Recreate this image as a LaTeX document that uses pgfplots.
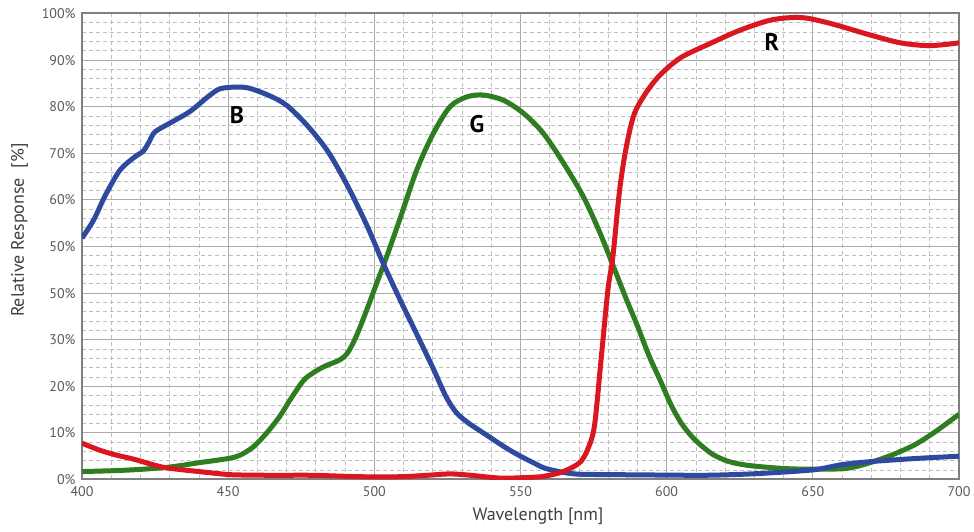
\documentclass[border=0pt]{standalone}
\usepackage{pgfplots}
\pgfplotsset{compat=1.18}
\usepackage{fontspec}
\setmainfont{PT Sans}
\definecolor{cB}{RGB}{46,74,158}
\definecolor{cG}{RGB}{46,125,32}
\definecolor{cR}{RGB}{218,22,30}
\begin{document}
\begin{tikzpicture}
\begin{axis}[
  scale only axis, width=877pt, height=466pt,
  xmin=400, xmax=700, ymin=0, ymax=100,
  xtick={400,450,...,700}, ytick={0,10,...,100},
  yticklabels={0\%,10\%,20\%,30\%,50\%,50\%,60\%,70\%,80\%,90\%,100\%},
  minor x tick num=4, minor y tick num=4,
  grid=both,
  major grid style={draw=black!33, line width=1pt},
  minor grid style={draw=black!25, line width=0.8pt, dash pattern=on 4pt off 3pt},
  major tick length=0pt, minor tick length=0pt,
  axis line style={draw=black!50, line width=2pt},
  /pgf/number format/assume math mode=true,
  tick label style={font=\fontsize{14}{14}\selectfont, text=black!65},
  xticklabel style={yshift=-3pt},
  yticklabel style={xshift=-3pt},
  xlabel={Wavelength [nm]},
  ylabel={Relative Response\ \ [\%]},
  label style={font=\fontsize{18}{18}\selectfont, text=black!75},
  xlabel style={at={(axis description cs:0.52,-0.087)}, anchor=base},
  ylabel style={at={(axis description cs:-0.0713,0.535)}, anchor=center},
  clip=true,
]
\coordinate (bl) at (rel axis cs:0,0);
\coordinate (tr) at (rel axis cs:1,1);

\addplot[cG, line width=5pt, smooth, no marks] coordinates {
(400,1.7) (415,2.0) (429,2.6) (440,3.6) (450,4.5) (454,5.2) (458.6,7.0) (463.2,10)
(467.7,13.6) (471.2,17.1) (475.7,21.2) (479.1,22.9) (483,24.3) (488.3,25.7) (491,27.3)
(494,31) (497.4,36.4) (500.8,42.1) (504.2,47.8) (508.8,56) (514.5,66.4) (520.2,74.3)
(525.9,80) (531.6,82.1) (537.3,82.5) (544.1,81.4) (551,78.6) (557.8,74.3) (564.7,67.9)
(571.5,60.7) (577.2,52.9) (581.8,45.7) (586,39) (590.1,32.8) (594,26.5) (598.2,20.7)
(601.5,16) (605,12.1) (608.5,9.3) (612,7.2) (616,5.3) (621,3.9) (627,3.1) (634.8,2.6)
(642,2.3) (650.6,2.2) (659.9,2.3) (665,2.8) (671,3.9) (678,5.5) (685,7.5) (692,10.3) (700,14)
};

\addplot[cB, line width=5pt, smooth, no marks] coordinates {
(400,51.8) (404,55.7) (408,61) (413,66.4) (418,69.2) (421,70.5) (423,72.5) (425,74.6)
(431,76.8) (437,79) (443,82.1) (447,83.8) (452,84.2) (457,84) (464,82.4) (470,80.3)
(477,76) (484,70.5) (490.6,63.3) (497.4,54.6) (503.1,46.3) (509,38.3) (514.5,31.2)
(520,24) (524.5,17.8) (528,14.4) (532,12.2) (538,9.7) (545,6.8) (550,5)
(554.4,3.6) (558,2.5) (562.4,1.8) (567,1.3) (572,1.1) (590,1.0) (612,0.9) (625,1.1)
(635,1.4) (650.6,2.1) (660,3.2) (671,3.9) (685,4.5) (700,5.0)
};

\addplot[cR, line width=5pt, smooth, no marks] coordinates {
(400,7.8) (406,6.3) (412,5.2) (417.5,4.4) (423,3.4) (428,2.6) (434,2.1) (440,1.7)
(446,1.3) (452,1.0) (465,0.9) (479,0.9) (495,0.6) (509,0.6) (518,0.9) (526,1.2)
(533,0.9) (543,0.3) (551,0.4) (557,0.6) (562,1.2) (565,1.8) (568,2.7) (570.7,3.9)
(573,6.5) (575.3,11.5) (577.6,26) (579.9,40.7) (581.6,47.8) (583.9,62.1) (586.2,71.4)
(589,78.6) (593.6,83.6) (598.2,87.1) (605,90.6) (615,93.6) (625,96.4) (635,98.5)
(642,99.1) (648,99) (657,97.7) (669,95.5) (680,93.7) (690,93.1) (700,93.7)
};

\node[font=\fontsize{24}{24}\selectfont\bfseries] at (axis cs:453,78.2) {B};
\node[font=\fontsize{24}{24}\selectfont\bfseries] at (axis cs:535.1,76.3) {G};
\node[font=\fontsize{24}{24}\selectfont\bfseries] at (axis cs:636,93.8) {R};
\end{axis}
\path ([shift={(-82pt,-52.5pt)}]bl) rectangle ([shift={(15pt,13.5pt)}]tr);
\end{tikzpicture}
\end{document}
